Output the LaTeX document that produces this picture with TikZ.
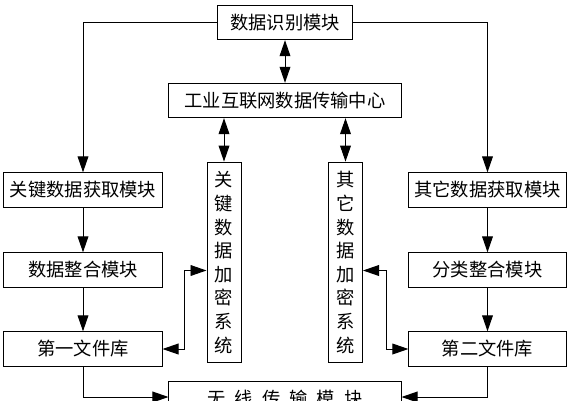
\documentclass[tikz,border=0pt]{standalone}
\usepackage{fontspec}
\setmainfont{Noto Sans CJK SC}
\usetikzlibrary{arrows.meta}

\tikzset{
  block/.style={rectangle, draw, line width=0.7pt, minimum height=0.86cm, inner sep=1pt, font=\fontsize{13}{16}\selectfont},
  vblock/.style={rectangle, draw, line width=0.7pt, minimum width=0.85cm, minimum height=5.02cm, inner sep=1pt, align=center, font=\fontsize{13}{16.8}\selectfont},
  link/.style={line width=0.7pt, -{Triangle[length=4mm, width=2.7mm]}},
  duplex/.style={line width=0.7pt, {Triangle[length=4mm, width=2.7mm]}-{Triangle[length=4mm, width=2.7mm]}}
}

\begin{document}
\begin{tikzpicture}[x=0.025cm, y=-0.025cm]
  \useasboundingbox (0,0) rectangle (569,400);

  % Nodes with absolute positioning
  \node[block, minimum width=3.35cm] (ident) at (285,22.5) {数据识别模块};
  \node[block, minimum width=5.8cm] (center) at (285,100.5) {工业互联网数据传输中心};
  \node[block, minimum width=3.95cm] (keyacq) at (83,190) {关键数据获取模块};
  \node[block, minimum width=3.93cm] (otheracq) at (487.5,190) {其它数据获取模块};
  \node[vblock] (keyenc) at (224,262.5) {关\\键\\数\\据\\加\\密\\系\\统};
  \node[vblock] (otherenc) at (345.5,262.5) {其\\它\\数\\据\\加\\密\\系\\统};
  \node[block, minimum width=3.95cm] (merge) at (83,270) {数据整合模块};
  \node[block, minimum width=3.93cm] (classify) at (487.5,270) {分类整合模块};
  \node[block, minimum width=3.95cm] (lib1) at (83,349) {第一文件库};
  \node[block, minimum width=3.93cm] (lib2) at (487.5,349) {第二文件库};
  \node[block, minimum width=5.8cm, minimum height=0.9cm] (wireless) at (285,399) {无\enspace 线\enspace 传\enspace 输\enspace 模\enspace 块};

  % Arrows
  \draw[link] (ident.west) -| (keyacq.north);
  \draw[link] (ident.east) -| (otheracq.north);
  \draw[duplex] (ident) -- (center);
  \draw[duplex] (center.south -| keyenc) -- (keyenc.north);
  \draw[duplex] (center.south -| otherenc) -- (otherenc.north);
  \draw[link] (keyacq) -- (merge);
  \draw[link] (merge) -- (lib1);
  \draw[link] (otheracq) -- (classify);
  \draw[link] (classify) -- (lib2);
  \draw[duplex] (lib1.east) -- ++(22,0) |- ([yshift=-0.2cm]keyenc.west);
  \draw[duplex] ([yshift=-0.2cm]otherenc.east) -- ++(23.5,0) |- (lib2.west);
  \draw[link] (lib1.south) |- ([yshift=0.05cm]wireless.west);
  \draw[link] (lib2.south) |- ([yshift=0.05cm]wireless.east);
\end{tikzpicture}
\end{document}
